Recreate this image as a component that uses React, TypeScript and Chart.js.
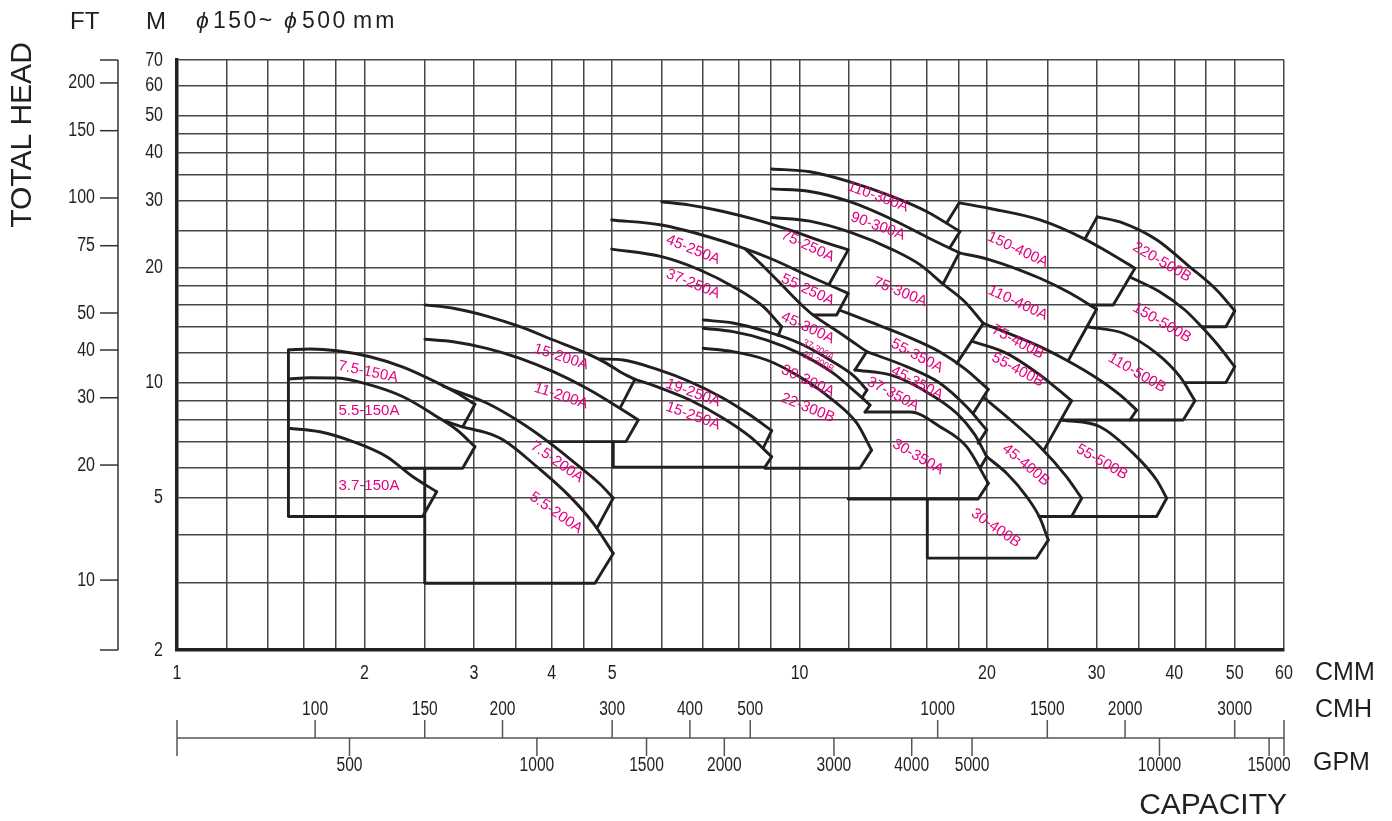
import React, { useEffect, useRef } from 'react';
import { Chart, registerables } from 'chart.js';
Chart.register(...registerables);

type Pt = [number, number];

// ---- axes (CMM on x, metres on y) ----
const xGrid = [1, 1.2, 1.4, 1.6, 1.8, 2, 2.5, 3, 3.5, 4, 4.5, 5, 6, 7, 8, 9, 10, 12, 14, 16, 18, 20, 25, 30, 35, 40, 45, 50, 60];
const xLabels = [1, 2, 3, 4, 5, 10, 20, 30, 40, 50, 60];
const yGrid = [2, 3, 4, 5, 6, 7, 8, 9, 10, 12, 14, 16, 18, 20, 25, 30, 35, 40, 45, 50, 60, 70];
const yLabels = [2, 5, 10, 20, 30, 40, 50, 60, 70];
const ftTicks = [200, 150, 100, 75, 50, 40, 30, 20, 10];
const cmhTicks = [100, 150, 200, 300, 400, 500, 1000, 1500, 2000, 3000];
const gpmTicks = [500, 1000, 1500, 2000, 3000, 4000, 5000, 10000, 15000];

// ---- 150A ----
const curve_7_5_150A: Pt[] = [[1.51, 12.2], [1.635, 12.27], [1.807, 12.14], [2.042, 11.71], [2.307, 11.0], [2.616, 10.02], [2.817, 9.41], [3.01, 8.79]];
const edge_7_5_150A: Pt[] = [[3.01, 8.79], [2.876, 7.67]];
const curve_5_5_150A: Pt[] = [[1.51, 10.24], [1.635, 10.32], [1.807, 10.3], [2.042, 9.88], [2.307, 9.2], [2.616, 8.16], [2.817, 7.53], [3.01, 6.81]];
const edge_5_5_150A: Pt[] = [[3.01, 6.81], [2.876, 5.98], [2.316, 5.98]];
const curve_3_7_150A: Pt[] = [[1.51, 7.61], [1.697, 7.45], [1.917, 7.02], [2.172, 6.41], [2.393, 5.68], [2.613, 5.19]];
const edge_3_7_150A: Pt[] = [[2.613, 5.19], [2.481, 4.47], [1.51, 4.47], [1.51, 12.2]];

// ---- 200A ----
const curve_15_200A: Pt[] = [[2.502, 16.0], [2.778, 15.68], [3.144, 14.96], [3.556, 14.03], [4.022, 12.95], [4.55, 11.95], [4.899, 11.25], [5.146, 10.7], [5.439, 10.22]];
const edge_15_200A: Pt[] = [[5.439, 10.22], [5.16, 8.66]];
const curve_11_200A: Pt[] = [[2.502, 13.01], [2.778, 12.82], [3.144, 12.32], [3.556, 11.6], [4.022, 10.7], [4.55, 9.68], [4.899, 9.02], [5.146, 8.58], [5.507, 8.0]];
const edge_11_200A: Pt[] = [[5.507, 8.0], [5.262, 7.02], [3.944, 7.02]];
const curve_7_5_200A: Pt[] = [[2.677, 9.8], [3.144, 8.86], [3.556, 7.9], [3.973, 6.96], [4.44, 6.02], [4.779, 5.44], [5.02, 5.0]];
const edge_7_5_200A: Pt[] = [[5.02, 5.0], [4.728, 4.17]];
const curve_5_5_200A: Pt[] = [[2.694, 7.95], [2.876, 7.67], [3.144, 7.4], [3.343, 7.09], [3.783, 6.04], [4.278, 5.04], [4.664, 4.29], [5.02, 3.58]];
const edge_5_5_200A: Pt[] = [[5.02, 3.58], [4.692, 2.99], [2.5, 2.99], [2.5, 5.98]];

// ---- 250A ----
const curve_19_250A: Pt[] = [[4.779, 11.55], [5.21, 11.48], [5.894, 10.86], [6.668, 10.07], [7.541, 9.12], [8.326, 8.24], [9.021, 7.5]];
const edge_19_250A: Pt[] = [[9.021, 7.5], [8.745, 6.76]];
const curve_15_250A: Pt[] = [[5.439, 10.22], [5.894, 9.78], [6.668, 9.02], [7.541, 8.08], [8.326, 7.23], [9.021, 6.41]];
const edge_15_250A: Pt[] = [[9.021, 6.41], [8.8, 6.02], [5.02, 6.02], [5.02, 7.02]];
const curve_75_250A: Pt[] = [[6.004, 29.8], [6.668, 29.2], [7.541, 28.1], [8.533, 26.7], [9.652, 25.1], [10.92, 23.4], [11.97, 22.3]];
const edge_75_250A: Pt[] = [[11.97, 22.3], [11.15, 18.1]];
const curve_55_250A: Pt[] = [[4.991, 26.7], [6.004, 25.9], [7.09, 24.2], [8.022, 22.7], [9.021, 21.1], [10.27, 19.16], [11.97, 17.16]];
const edge_55_250A: Pt[] = [[11.97, 17.16], [11.47, 15.06], [10.51, 15.06]];
const curve_37_250A: Pt[] = [[4.991, 22.4], [6.004, 21.4], [6.918, 19.75], [7.826, 17.85], [8.745, 15.83], [9.359, 14.03]];
const edge_37_250A: Pt[] = [[9.359, 14.03], [9.243, 13.3]];

// ---- 300A ----
const curve_110_300A: Pt[] = [[9.021, 36.3], [10.39, 35.7], [12.05, 33.6], [14.14, 30.7], [16.0, 28.1], [18.1, 24.9]];
const edge_110_300A: Pt[] = [[18.1, 24.9], [17.44, 22.6]];
const curve_90_300A: Pt[] = [[9.021, 32.2], [10.39, 31.7], [12.05, 29.8], [14.14, 26.7], [16.0, 24.1], [18.05, 21.9]];
const edge_90_300A: Pt[] = [[18.05, 21.9], [17.0, 18.15]];
const curve_75_300A: Pt[] = [[9.021, 27.1], [10.39, 26.5], [12.05, 24.8], [14.13, 22.3], [15.61, 20.4], [17.0, 18.15], [18.44, 16.29], [19.73, 14.32]];
const edge_75_300A: Pt[] = [[19.73, 14.32], [17.89, 11.25]];
const curve_45_300A: Pt[] = [[8.171, 22.45], [8.639, 20.6], [9.301, 18.26], [10.0, 16.19], [10.51, 15.06], [11.61, 13.51], [12.82, 12.07]];
const edge_45_300A: Pt[] = [[12.82, 12.07], [12.27, 10.81]];
const curve_37_300A: Pt[] = [[7.0, 14.61], [7.816, 14.35], [8.856, 13.62], [10.0, 12.7], [11.31, 11.36], [12.27, 10.37], [12.83, 9.58]];
const edge_37_300A: Pt[] = [[12.83, 9.58], [12.6, 9.15]];
const curve_30_300A: Pt[] = [[7.0, 13.9], [7.816, 13.62], [8.856, 12.95], [10.0, 11.95], [11.31, 10.62], [12.36, 9.4], [12.98, 8.75]];
const edge_30_300A: Pt[] = [[12.98, 8.75], [12.74, 8.39]];
const curve_22_300B: Pt[] = [[7.0, 12.32], [7.816, 12.07], [8.856, 11.48], [10.0, 10.38], [11.31, 9.02], [12.36, 7.85], [13.05, 6.67]];
const edge_22_300B: Pt[] = [[13.05, 6.67], [12.5, 5.98], [8.8, 5.98]];

// ---- 350A ----
const curve_55_350A: Pt[] = [[11.58, 15.52], [12.98, 14.44], [14.82, 13.27], [16.81, 12.05], [18.44, 10.88], [20.1, 9.62]];
const edge_55_350A: Pt[] = [[20.1, 9.62], [19.01, 8.33]];
const curve_45_350A: Pt[] = [[12.82, 12.07], [14.86, 11.03], [16.81, 9.98], [18.55, 8.66], [19.98, 7.53]];
const edge_45_350A: Pt[] = [[19.98, 7.53], [19.36, 6.95]];
const curve_37_350A: Pt[] = [[12.27, 10.81], [14.0, 10.49], [15.8, 9.58], [17.88, 8.33], [19.13, 7.31], [19.98, 6.41]];
const edge_37_350A: Pt[] = [[19.98, 6.41], [19.49, 5.98]];
const curve_30_350A: Pt[] = [[12.74, 8.39], [15.05, 8.39], [16.81, 7.68], [18.55, 6.81], [20.1, 5.46]];
const edge_30_350A: Pt[] = [[20.1, 5.46], [19.36, 4.97], [11.97, 4.97]];

// ---- 400A / 400B ----
const frame_150_400A: Pt[] = [[17.23, 26.2], [18.05, 29.6]];
const curve_150_400A: Pt[] = [[18.05, 29.6], [20.22, 28.6], [24.33, 26.7], [28.56, 23.9], [31.13, 22.1], [34.57, 19.95]];
const edge_150_400A: Pt[] = [[34.57, 19.95], [31.9, 15.99], [29.27, 15.99]];
const curve_110_400A: Pt[] = [[18.05, 21.9], [20.22, 21.0], [24.33, 18.79], [27.19, 17.19], [30.0, 15.59]];
const edge_110_400A: Pt[] = [[30.0, 15.59], [27.02, 11.45]];
const curve_75_400B: Pt[] = [[19.73, 14.32], [20.98, 13.76], [24.33, 12.44], [26.99, 11.41], [30.0, 10.3], [32.71, 9.3], [34.79, 8.49]];
const edge_75_400B: Pt[] = [[34.79, 8.49], [33.94, 8.0]];
const curve_55_400B: Pt[] = [[19.01, 12.82], [21.51, 11.95], [24.33, 10.49], [25.72, 9.76], [27.35, 8.98]];
const edge_55_400B: Pt[] = [[27.35, 8.98], [24.69, 6.67]];
const curve_45_400B: Pt[] = [[19.73, 9.18], [21.51, 8.16], [24.33, 6.81], [26.85, 5.68], [28.39, 4.99]];
const edge_45_400B: Pt[] = [[28.39, 4.99], [27.35, 4.47]];
const curve_30_400B: Pt[] = [[19.98, 6.41], [21.51, 5.8], [23.16, 5.04], [24.33, 4.43], [25.09, 3.88]];
const edge_30_400B: Pt[] = [[25.09, 3.88], [24.03, 3.48], [16.04, 3.48], [16.04, 4.97]];

// ---- 500B ----
const frame_220_500B: Pt[] = [[28.73, 23.8], [30.07, 27.2]];
const curve_220_500B: Pt[] = [[30.07, 27.2], [33.11, 26.2], [37.46, 23.7], [42.38, 20.1], [46.77, 17.51], [50.0, 15.45]];
const edge_220_500B: Pt[] = [[50.0, 15.45], [48.4, 14.03], [44.3, 14.03]];
const curve_150_500B: Pt[] = [[33.94, 18.93], [37.93, 17.3], [41.59, 15.52], [43.97, 14.18], [46.99, 12.57], [50.0, 11.03]];
const edge_150_500B: Pt[] = [[50.0, 11.03], [48.4, 10.02], [41.59, 10.02]];
const curve_110_500B: Pt[] = [[28.93, 14.03], [33.11, 13.49], [37.46, 11.95], [40.83, 10.38], [43.17, 8.98]];
const edge_110_500B: Pt[] = [[43.17, 8.98], [41.33, 8.0], [26.36, 8.0]];
const curve_55_500B: Pt[] = [[26.36, 8.0], [30.38, 7.68], [34.36, 6.54], [37.46, 5.57], [38.88, 4.99]];
const edge_55_500B: Pt[] = [[38.88, 4.99], [37.46, 4.47], [24.24, 4.47]];

const curves: Pt[][] = [
  curve_7_5_150A, curve_5_5_150A, curve_3_7_150A,
  curve_15_200A, curve_11_200A, curve_7_5_200A, curve_5_5_200A,
  curve_19_250A, curve_15_250A, curve_75_250A, curve_55_250A, curve_37_250A,
  curve_110_300A, curve_90_300A, curve_75_300A, curve_45_300A, curve_37_300A, curve_30_300A, curve_22_300B,
  curve_55_350A, curve_45_350A, curve_37_350A, curve_30_350A,
  curve_150_400A, curve_110_400A, curve_75_400B, curve_55_400B, curve_45_400B, curve_30_400B,
  curve_220_500B, curve_150_500B, curve_110_500B, curve_55_500B,
];
const edges: Pt[][] = [
  edge_7_5_150A, edge_5_5_150A, edge_3_7_150A,
  edge_15_200A, edge_11_200A, edge_7_5_200A, edge_5_5_200A,
  edge_19_250A, edge_15_250A, edge_75_250A, edge_55_250A, edge_37_250A,
  edge_110_300A, edge_90_300A, edge_75_300A, edge_45_300A, edge_37_300A, edge_30_300A, edge_22_300B,
  edge_55_350A, edge_45_350A, edge_37_350A, edge_30_350A,
  frame_150_400A, edge_150_400A, edge_110_400A, edge_75_400B, edge_55_400B, edge_45_400B, edge_30_400B,
  frame_220_500B, edge_220_500B, edge_150_500B, edge_110_500B, edge_55_500B,
];

// model name, anchor Q (CMM), anchor H (m), text angle (deg)
const modelLabels: [string, number, number, number][] = [
  ['7.5-150A', 2.027, 10.68, 12], ['5.5-150A', 2.034, 8.44, 0], ['3.7-150A', 2.034, 5.37, 0],
  ['15-200A', 4.139, 11.69, 18], ['11-200A', 4.139, 9.24, 18], ['7.5-200A', 4.077, 6.21, 35], ['5.5-200A', 4.062, 4.57, 35],
  ['45-250A', 6.744, 22.3, 22], ['37-250A', 6.744, 18.15, 22], ['19-250A', 6.744, 9.41, 20], ['15-250A', 6.744, 8.19, 20],
  ['110-300A', 13.36, 30.7, 20], ['90-300A', 13.36, 25.7, 20], ['75-250A', 10.31, 22.8, 25], ['55-250A', 10.31, 17.51, 25],
  ['75-300A', 14.5, 17.3, 22], ['45-300A', 10.31, 13.93, 25], ['30-300A', 10.31, 10.12, 25], ['22-300B', 10.31, 8.6, 22],
  ['55-350A', 15.44, 11.76, 28], ['45-350A', 15.44, 9.99, 28], ['37-350A', 14.13, 9.35, 28], ['30-350A', 15.5, 6.4, 30],
  ['150-400A', 22.42, 22.3, 25], ['110-400A', 22.42, 16.19, 25], ['75-400B', 22.42, 12.8, 28], ['55-400B', 22.42, 10.81, 28],
  ['45-400B', 23.1, 6.1, 40], ['30-400B', 20.67, 4.17, 35],
  ['220-500B', 38.2, 20.7, 30], ['150-500B', 38.2, 14.35, 30], ['110-500B', 34.83, 10.62, 30], ['55-500B', 30.6, 6.21, 30],
];
const smallLabels: [string, number, number, number][] = [
  ['37-300A', 10.71, 12.19, 28], ['30-300B', 10.71, 11.34, 28],
];

const INK = '#231f20';
const PINK = '#e5007f';
const SANS = '"Liberation Sans", Arial, "DejaVu Sans", sans-serif';

const toXY = (pts: Pt[]) => pts.map(([x, y]) => ({ x, y }));

const overlay = {
  id: 'overlay',
  afterDatasetsDraw(chart: any) {
    const { ctx, scales } = chart;
    const sx = scales.x, sy = scales.y;
    ctx.save();
    ctx.fillStyle = PINK;
    ctx.textAlign = 'center';
    ctx.textBaseline = 'middle';
    const draw = (list: [string, number, number, number][], size: number, squeeze: number) => {
      ctx.font = `${size}px ${SANS}`;
      list.forEach(([t, q, h, a]) => {
        ctx.save();
        ctx.translate(sx.getPixelForValue(q), sy.getPixelForValue(h));
        ctx.rotate((a * Math.PI) / 180);
        ctx.scale(squeeze, 1);
        ctx.fillText(t, 0, 0);
        ctx.restore();
      });
    };
    draw(modelLabels, 15, 1);
    draw(smallLabels, 10.5, 0.85);
    ctx.restore();
  },
  afterDraw(chart: any) {
    const { ctx, chartArea: a, scales } = chart;
    const sx = scales.x, sy = scales.y;
    const seg = (x1: number, y1: number, x2: number, y2: number) => {
      ctx.beginPath(); ctx.moveTo(x1, y1); ctx.lineTo(x2, y2); ctx.stroke();
    };
    // narrow (condensed) text helper
    const narrow = (t: string, x: number, y: number, align: CanvasTextAlign, size: number) => {
      ctx.save();
      ctx.translate(x, y);
      ctx.scale(0.8, 1);
      ctx.font = `${size}px ${SANS}`;
      ctx.textAlign = align;
      ctx.textBaseline = 'middle';
      ctx.fillText(t, 0, 0);
      ctx.restore();
    };
    ctx.save();
    ctx.fillStyle = INK;
    ctx.strokeStyle = INK;
    yLabels.forEach((v) => narrow(String(v), a.left - 14, sy.getPixelForValue(v), 'right', 20));
    xLabels.forEach((v) => narrow(String(v), sx.getPixelForValue(v), a.bottom + 23, 'center', 20));
    // FT axis
    const fx = a.left - 59;
    ctx.lineWidth = 1.5;
    ctx.strokeStyle = '#333';
    seg(fx, a.top, fx, a.bottom);
    seg(fx - 18, a.top, fx, a.top);
    seg(fx - 18, a.bottom, fx, a.bottom);
    ftTicks.forEach((ft) => {
      const py = sy.getPixelForValue(ft * 0.3048);
      seg(fx - 18, py, fx, py);
      narrow(String(ft), fx - 23, py, 'right', 20);
    });
    // CMH / GPM axis
    const ly = a.bottom + 88;
    ctx.strokeStyle = '#555';
    seg(a.left, ly, a.right, ly);
    seg(a.left, ly - 18, a.left, ly + 18);
    seg(a.right, ly - 18, a.right, ly + 18);
    cmhTicks.forEach((v) => {
      const px = sx.getPixelForValue(v / 60);
      seg(px, ly - 18, px, ly);
      narrow(String(v), px, ly - 28, 'center', 19.5);
    });
    gpmTicks.forEach((v) => {
      const px = sx.getPixelForValue(v * 0.0037854);
      seg(px, ly, px, ly + 18);
      narrow(String(v), px, ly + 28, 'center', 19.5);
    });
    // unit names & titles
    ctx.textBaseline = 'middle';
    ctx.textAlign = 'left';
    ctx.font = `25px ${SANS}`;
    ctx.fillText('CMM', a.right + 31, a.bottom + 23);
    ctx.fillText('CMH', a.right + 31, ly - 28);
    ctx.fillText('GPM', a.right + 29, ly + 25);
    ctx.font = `30px ${SANS}`;
    ctx.textAlign = 'right';
    ctx.fillText('CAPACITY', a.right + 3, a.bottom + 156);
    ctx.textAlign = 'left';
    ctx.font = `24px ${SANS}`;
    ctx.fillText('FT', fx - 48, 22);
    ctx.fillText('M', a.left - 31, 22);
    // title  ϕ 150~ ϕ 500 mm
    (ctx as any).letterSpacing = '2.5px';
    ctx.font = `italic 23px ${SANS}`;
    ctx.fillText('ϕ', a.left + 19, 22);
    ctx.fillText('ϕ', a.left + 107, 22);
    ctx.font = `23px ${SANS}`;
    ctx.fillText('150~', a.left + 36, 22);
    ctx.fillText('500', a.left + 125, 22);
    (ctx as any).letterSpacing = '3px';
    ctx.fillText('mm', a.left + 176, 22);
    (ctx as any).letterSpacing = '0px';
    ctx.save();
    ctx.translate(23, 135);
    ctx.rotate(-Math.PI / 2);
    ctx.textAlign = 'center';
    ctx.font = `30px ${SANS}`;
    ctx.fillText('TOTAL HEAD', 0, 0);
    ctx.restore();
    ctx.restore();
  },
};

export default function App() {
  const ref = useRef<HTMLCanvasElement | null>(null);
  useEffect(() => {
    if (!ref.current) return;
    const datasets: any[] = [];
    curves.forEach((c) =>
      datasets.push({
        data: toXY(c), borderColor: INK, borderWidth: 2.9, pointRadius: 0,
        fill: false, cubicInterpolationMode: 'monotone', borderCapStyle: 'round', borderJoinStyle: 'round',
      })
    );
    edges.forEach((e) =>
      datasets.push({
        data: toXY(e), borderColor: INK, borderWidth: 2.9, pointRadius: 0,
        fill: false, tension: 0, borderCapStyle: 'round', borderJoinStyle: 'round',
      })
    );
    const chart = new Chart(ref.current, {
      type: 'line',
      data: { datasets },
      options: {
        animation: false,
        responsive: false,
        events: [],
        layout: { padding: { left: 177, right: 108, top: 60, bottom: 171 } },
        plugins: { legend: { display: false }, tooltip: { enabled: false }, title: { display: false } },
        scales: {
          x: {
            type: 'logarithmic', min: 1, max: 60,
            afterBuildTicks: (s: any) => { s.ticks = xGrid.map((v) => ({ value: v })); },
            ticks: { display: false },
            grid: { color: '#474747', lineWidth: 1.5, drawTicks: false },
            border: { display: true, color: INK, width: 3.5 },
          },
          y: {
            type: 'logarithmic', min: 2, max: 70,
            afterBuildTicks: (s: any) => { s.ticks = yGrid.map((v) => ({ value: v })); },
            ticks: { display: false },
            grid: { color: '#474747', lineWidth: 1.5, drawTicks: false },
            border: { display: true, color: INK, width: 3.5 },
          },
        },
      } as any,
      plugins: [overlay],
    });
    return () => chart.destroy();
  }, []);
  return (
    <div style={{ position: 'absolute', left: 0, top: 0, width: 1392, height: 821, background: '#fff' }}>
      <canvas ref={ref} width={1392} height={821} style={{ width: 1392, height: 821, display: 'block' }} />
    </div>
  );
}
